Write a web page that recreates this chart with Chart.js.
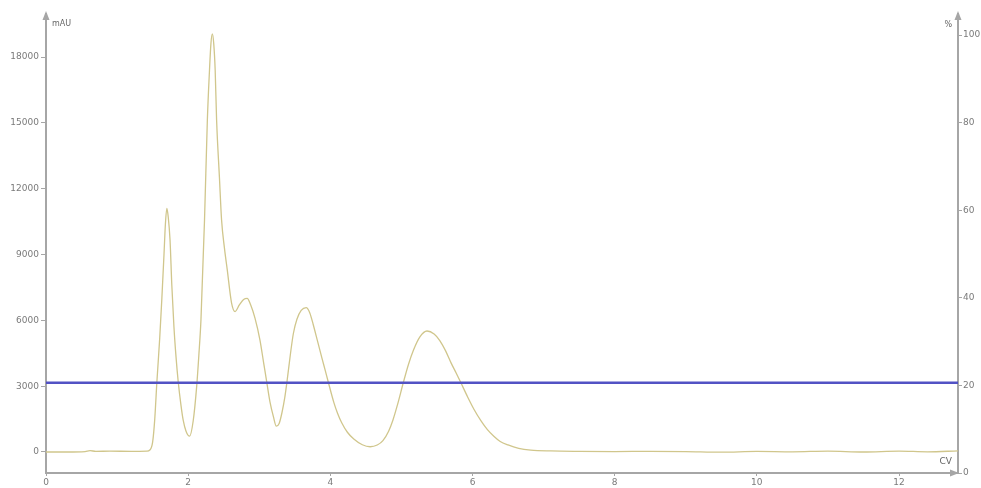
<!DOCTYPE html>
<html lang="en">
<head>
<meta charset="UTF-8">
<title>Chromatogram</title>
<style>
  html, body { margin: 0; padding: 0; background: #fff; }
  .chart-container { position: relative; width: 981px; height: 488px; }
</style>
</head>
<body>
<div class="chart-container"><canvas id="chromChart"></canvas></div>
<script src="https://cdn.jsdelivr.net/npm/chart.js"></script>
<script>
// UV trace (mAU) against column volumes
const cvValues = [
  0.00, 0.30, 0.55, 0.62, 0.70, 0.90, 1.20, 1.42, 1.46, 1.50,
  1.53, 1.56, 1.60, 1.63, 1.66, 1.68, 1.70, 1.72, 1.745, 1.77,
  1.80, 1.83, 1.86, 1.90, 1.93, 1.97, 2.02, 2.07, 2.12, 2.15,
  2.18, 2.23, 2.27, 2.30, 2.32, 2.34, 2.36, 2.38, 2.40, 2.44,
  2.47, 2.51, 2.55, 2.61, 2.66, 2.72, 2.78, 2.83, 2.88, 2.94,
  3.01, 3.06, 3.10, 3.15, 3.20, 3.24, 3.28, 3.32, 3.36, 3.39,
  3.44, 3.48, 3.53, 3.59, 3.66, 3.71, 3.76, 3.82, 3.88, 3.93,
  3.97, 4.05, 4.10, 4.16, 4.24, 4.33, 4.45, 4.56, 4.66, 4.74,
  4.82, 4.88, 4.94, 5.03, 5.10, 5.17, 5.26, 5.36, 5.46, 5.54,
  5.62, 5.70, 5.77, 5.83, 5.93, 6.02, 6.12, 6.21, 6.30, 6.39,
  6.50, 6.65, 6.82, 7.10, 7.50, 8.00, 8.50, 9.00, 9.50, 10.00,
  10.50, 11.00, 11.50, 12.00, 12.40, 12.83
];
const mauValues = [
  0, 0, 20, 60, 30, 40, 30, 40, 90, 450,
  1500, 3200, 5200, 7000, 9000, 10400, 11100, 10700, 9660, 7600,
  5700, 4300, 3200, 2100, 1450, 950, 720, 1400, 3000, 4400,
  6020, 10570, 15130, 17400, 18600, 19050, 18600, 17400, 15130, 12500,
  10570, 9300, 8300, 6800, 6400, 6700, 6950, 7000, 6700, 6100,
  5100, 4100, 3300, 2300, 1600, 1180, 1300, 1800, 2500, 3200,
  4500, 5400, 6050, 6450, 6580, 6350, 5800, 5050, 4300, 3700,
  3200, 2250, 1780, 1330, 900, 590, 330, 240, 320, 520,
  950, 1450, 2100, 3200, 4000, 4650, 5250, 5515, 5380, 5080,
  4620, 4050, 3600, 3200, 2520, 1950, 1420, 1020, 720, 480,
  320, 170, 90, 50, 30, 20, 30, 20, -10, 30,
  10, 40, 0, 40, 10, 50
];

// gradient (%B), flat line
const gradientCv = [0, 12.83];
const gradientPercent = [20.6, 20.6];

const cvTicks = [0, 2, 4, 6, 8, 10, 12];
const mauTicks = [0, 3000, 6000, 9000, 12000, 15000, 18000];
const percentTicks = [0, 20, 40, 60, 80, 100];

const axisGrey = '#a6a6a6';
const labelGrey = '#7a7a7a';

Chart.defaults.font.family = 'DejaVu Sans';
Chart.defaults.font.size = 9;
Chart.defaults.color = labelGrey;

// arrow heads + axis unit labels
const axisDecor = {
  id: 'axisDecor',
  afterDraw(chart) {
    const { ctx, chartArea: a } = chart;
    ctx.save();
    ctx.fillStyle = axisGrey;
    const tri = (p1, p2, p3) => {
      ctx.beginPath();
      ctx.moveTo(p1[0], p1[1]); ctx.lineTo(p2[0], p2[1]); ctx.lineTo(p3[0], p3[1]);
      ctx.closePath(); ctx.fill();
    };
    tri([a.left, a.top - 3], [a.left - 3.5, a.top + 6], [a.left + 3.5, a.top + 6]);
    tri([a.right, a.top - 3], [a.right - 3.5, a.top + 6], [a.right + 3.5, a.top + 6]);
    tri([a.right + 1, a.bottom], [a.right - 8, a.bottom - 3.5], [a.right - 8, a.bottom + 3.5]);

    ctx.fillStyle = '#666';
    ctx.font = '8px "DejaVu Sans"';
    ctx.textBaseline = 'middle';
    ctx.textAlign = 'left';
    ctx.fillText('mAU', a.left + 6, a.top + 10);
    ctx.textAlign = 'right';
    ctx.fillText('%', a.right - 6, a.top + 11);
    ctx.font = '9px "DejaVu Sans"';
    ctx.fillText('CV', a.right - 6, a.bottom - 11);
    ctx.restore();
  }
};

const setTicks = list => scale => { scale.ticks = list.map(v => ({ value: v })); };
const plainLabel = v => String(v);

new Chart(document.getElementById('chromChart').getContext('2d'), {
  type: 'line',
  data: {
    datasets: [
      {
        label: '%B',
        data: gradientCv.map((x, i) => ({ x, y: gradientPercent[i] })),
        yAxisID: 'y1',
        borderColor: 'rgb(82, 82, 196)',
        borderWidth: 2.5,
        pointRadius: 0
      },
      {
        label: 'UV',
        data: cvValues.map((x, i) => ({ x, y: mauValues[i] })),
        yAxisID: 'y',
        borderColor: 'rgb(208, 198, 140)',
        borderWidth: 1.3,
        pointRadius: 0,
        cubicInterpolationMode: 'monotone'
      }
    ]
  },
  options: {
    responsive: true,
    maintainAspectRatio: false,
    animation: false,
    layout: { padding: { top: 14, left: 0, right: 0, bottom: 0 } },
    plugins: { legend: { display: false }, tooltip: { enabled: false } },
    scales: {
      x: {
        type: 'linear',
        min: 0,
        max: 12.83,
        afterBuildTicks: setTicks(cvTicks),
        afterFit: s => { s.height = 15; },
        border: { display: true, color: axisGrey, width: 2 },
        grid: { drawOnChartArea: false, drawTicks: true, tickLength: 3, color: axisGrey },
        ticks: { padding: 1, maxRotation: 0, callback: plainLabel }
      },
      y: {
        position: 'left',
        min: -957,
        max: 19960,
        afterBuildTicks: setTicks(mauTicks),
        afterFit: s => { s.width = 46; },
        border: { display: true, color: axisGrey, width: 2 },
        grid: { drawOnChartArea: false, drawTicks: true, tickLength: 5, color: axisGrey },
        ticks: { padding: 2, callback: plainLabel }
      },
      y1: {
        position: 'right',
        min: 0,
        max: 104.8,
        afterBuildTicks: setTicks(percentTicks),
        afterFit: s => { s.width = 23; },
        border: { display: true, color: axisGrey, width: 2 },
        grid: { drawOnChartArea: false, drawTicks: true, tickLength: 4, color: axisGrey },
        ticks: { padding: 1, callback: plainLabel }
      }
    }
  },
  plugins: [axisDecor]
});
</script>
</body>
</html>
